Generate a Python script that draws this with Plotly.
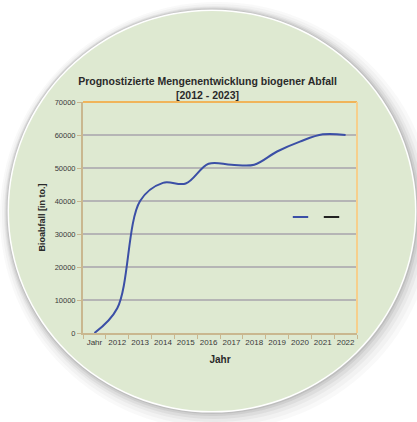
import plotly.graph_objects as go

categories = ["Jahr", "2012", "2013", "2014", "2015", "2016", "2017", "2018", "2019", "2020", "2021", "2022"]
bioabfall = [0, 7500, 40000, 45500, 45300, 51300, 51000, 51000, 55000, 58000, 60200, 60000]
second_series = [None] * len(categories)

W, H = 417, 422
L, R, T, B = 83, 357, 102, 333
pw, ph = R - L, B - T

def px(x):
    return (x - L) / pw

def py(y):
    return (B - y) / ph

BLUE = "#3b4fa6"
BLACK = "#222222"

fig = go.Figure()
fig.add_trace(go.Scatter(x=categories, y=bioabfall, mode="lines", showlegend=False,
                         line=dict(color=BLUE, width=2, shape="spline", smoothing=1)))
fig.add_trace(go.Scatter(x=categories, y=second_series, mode="lines", showlegend=False,
                         line=dict(color=BLACK, width=2)))
fig.add_trace(go.Scatter(x=[None], y=[None], mode="markers", name=" ", legend="legend",
                         marker=dict(symbol="line-ew", size=11, line=dict(color=BLUE, width=2))))
fig.add_trace(go.Scatter(x=[None], y=[None], mode="markers", name=" ", legend="legend2",
                         marker=dict(symbol="line-ew", size=11, line=dict(color=BLACK, width=2))))

shapes = []
cx, cy, rx, ry = 212, 211, 203, 200
for d, off, a in [(14, 5, 0.03), (11, 4, 0.04), (8, 3, 0.05), (6, 2, 0.07), (4, 1, 0.09), (2.5, 0.5, 0.12)]:
    shapes.append(dict(type="circle", xref="paper", yref="paper", layer="below",
                       x0=px(cx - rx - d + off), x1=px(cx + rx + d + off),
                       y0=py(cy + ry + d + off), y1=py(cy - ry - d + off),
                       fillcolor=f"rgba(70,70,70,{a})", line=dict(width=0)))
shapes.append(dict(type="circle", xref="paper", yref="paper", layer="below",
                   x0=px(cx - rx - 1.5), x1=px(cx + rx + 1.5),
                   y0=py(cy + ry + 1.5), y1=py(cy - ry - 1.5),
                   fillcolor="white", line=dict(width=0)))
shapes.append(dict(type="circle", xref="paper", yref="paper", layer="below",
                   x0=px(cx - rx), x1=px(cx + rx), y0=py(cy + ry), y1=py(cy - ry),
                   fillcolor="#dee9d1", line=dict(width=0)))
shapes.append(dict(type="line", xref="paper", yref="paper", x0=0, x1=1, y0=1, y1=1,
                   line=dict(color="#f0b45a", width=2)))
shapes.append(dict(type="line", xref="paper", yref="paper", x0=1, x1=1, y0=0, y1=1,
                   line=dict(color="#f6cf8c", width=2)))

leg_common = dict(orientation="h", xanchor="left", yanchor="middle",
                  bgcolor="rgba(0,0,0,0)", font=dict(size=2), borderwidth=0)

fig.update_layout(
    width=W, height=H,
    margin=dict(l=L, r=W - R, t=T, b=H - B, autoexpand=False),
    paper_bgcolor="white", plot_bgcolor="rgba(0,0,0,0)",
    font=dict(family="Liberation Sans, Arial, sans-serif", color="#333333"),
    title=dict(text="<b>Prognostizierte Mengenentwicklung biogener Abfall<br>[2012 - 2023]</b>",
               x=207.5 / W, xanchor="center", y=1 - 85 / H, yanchor="top",
               font=dict(size=10.5, color="#2a2a2a")),
    shapes=shapes,
    showlegend=True,
    legend=dict(x=px(280.5), y=py(217), **leg_common),
    legend2=dict(x=px(311.5), y=py(217), **leg_common),
    xaxis=dict(type="category", range=[-0.5, 11.5], showgrid=False, automargin=False,
               showline=True, linecolor="#c9b78f", linewidth=2,
               ticks="outside", tickson="boundaries", ticklen=4, tickcolor="#c9b78f",
               tickangle=0, tickfont=dict(size=8, color="#3a3a3a"),
               title=dict(text="<b>Jahr</b>", font=dict(size=10, color="#2a2a2a"), standoff=10)),
    yaxis=dict(range=[0, 70000], dtick=10000, tickformat="d", automargin=False,
               showgrid=True, gridcolor="#b5b5b5", gridwidth=2,
               showline=True, linecolor="#c9b78f", linewidth=2,
               ticks="outside", ticklen=4, tickcolor="#c9b78f",
               tickfont=dict(size=7.5, color="#3a3a3a"), zeroline=False,
               title=dict(text="<b>Bioabfall [in to.]</b>", font=dict(size=9, color="#2a2a2a"), standoff=7)),
)

fig.write_html("out.html", config={"displayModeBar": False},
               post_script="document.body.style.margin='0px';document.body.style.overflow='hidden';")
